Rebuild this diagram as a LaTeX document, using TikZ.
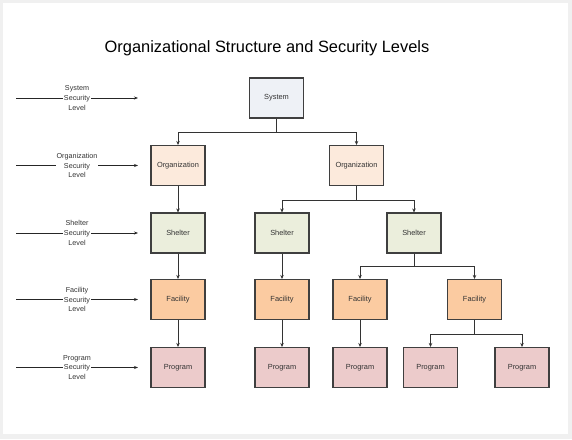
\documentclass[tikz,border=0pt]{standalone}
\usepackage{fontspec}
\setmainfont{Liberation Sans}
\usetikzlibrary{arrows.meta}
\definecolor{edgec}{HTML}{3F3F3F}
\definecolor{sysc}{HTML}{EEF1F6}
\definecolor{orgc}{HTML}{FCEADC}
\definecolor{shelc}{HTML}{EBEEDC}
\definecolor{facc}{HTML}{FBCBA1}
\definecolor{progc}{HTML}{ECCBCB}
\definecolor{bgc}{HTML}{F0F0F0}
\tikzset{
  box/.style={draw=edgec, line width=1.1pt, minimum width=54pt, minimum height=40pt, inner sep=0pt, font=\fontsize{7.4}{9}\selectfont, text=black!80},
  conn/.style={draw=black!80, line width=0.9pt, -{Stealth[length=4pt,width=3.5pt]}},
  lvl/.style={fill=white, inner sep=0.5pt, align=center, font=\fontsize{7.2}{9.6}\selectfont, text=black!80},
  lvlline/.style={draw=black!85, line width=0.7pt, -{Stealth[length=4pt,width=3pt]}}
}
\begin{document}
\begin{tikzpicture}[x=1pt,y=-1pt]
\useasboundingbox (0,0) rectangle (572,439);
\fill[bgc] (0,0) rectangle (572,439);
\fill[white] (3,3) rectangle (568,434);
\node[font=\fontsize{16.4}{20}\selectfont] (title) at (267,48) {Organizational Structure and Security Levels};

% boxes
\node[box, fill=sysc] (sys) at (276.5,98) {System};
\node[box, fill=orgc] (o1) at (178,165.5) {Organization};
\node[box, fill=orgc] (o2) at (356.5,165.5) {Organization};
\node[box, fill=shelc] (s1) at (178,233) {Shelter};
\node[box, fill=shelc] (s2) at (282,233) {Shelter};
\node[box, fill=shelc] (s3) at (414,233) {Shelter};
\node[box, fill=facc] (f1) at (178,299.5) {Facility};
\node[box, fill=facc] (f2) at (282,299.5) {Facility};
\node[box, fill=facc] (f3) at (360,299.5) {Facility};
\node[box, fill=facc] (f4) at (474.5,299.5) {Facility};
\node[box, fill=progc] (p1) at (178,367.5) {Program};
\node[box, fill=progc] (p2) at (282,367.5) {Program};
\node[box, fill=progc] (p3) at (360,367.5) {Program};
\node[box, fill=progc] (p4) at (430.5,367.5) {Program};
\node[box, fill=progc] (p5) at (522,367.5) {Program};

% connectors
\draw[conn] (sys.south) |- (276.5,132) -| (o1.north);
\draw[conn] (sys.south) |- (276.5,132) -| (o2.north);
\draw[conn] (o1) -- (s1);
\draw[conn] (o2.south) |- (356.5,200) -| (s2.north);
\draw[conn] (o2.south) |- (356.5,200) -| (s3.north);
\draw[conn] (s1) -- (f1);
\draw[conn] (s2) -- (f2);
\draw[conn] (s3.south) |- (414,266.5) -| (f3.north);
\draw[conn] (s3.south) |- (414,266.5) -| (f4.north);
\draw[conn] (f1) -- (p1);
\draw[conn] (f2) -- (p2);
\draw[conn] (f3) -- (p3);
\draw[conn] (f4.south) |- (474.5,334) -| (p4.north);
\draw[conn] (f4.south) |- (474.5,334) -| (p5.north);

% level labels
\coordinate (a1) at (16,98);   \coordinate (b1) at (138,98);
\coordinate (a2) at (16,165.5); \coordinate (b2) at (138,165.5);
\coordinate (a3) at (16,233);  \coordinate (b3) at (138,233);
\coordinate (a4) at (16,299.5); \coordinate (b4) at (138,299.5);
\coordinate (a5) at (16,367.5); \coordinate (b5) at (138,367.5);
\draw[lvlline] (a1) -- (b1);
\draw[lvlline] (a2) -- (b2);
\draw[lvlline] (a3) -- (b3);
\draw[lvlline] (a4) -- (b4);
\draw[lvlline] (a5) -- (b5);
\node[lvl] (l1) at (77,98) {System\\Security\\Level};
\node[lvl] (l2) at (77,165.5) {Organization\\Security\\Level};
\node[lvl] (l3) at (77,233) {Shelter\\Security\\Level};
\node[lvl] (l4) at (77,299.5) {Facility\\Security\\Level};
\node[lvl] (l5) at (77,367.5) {Program\\Security\\Level};
\end{tikzpicture}
\end{document}
